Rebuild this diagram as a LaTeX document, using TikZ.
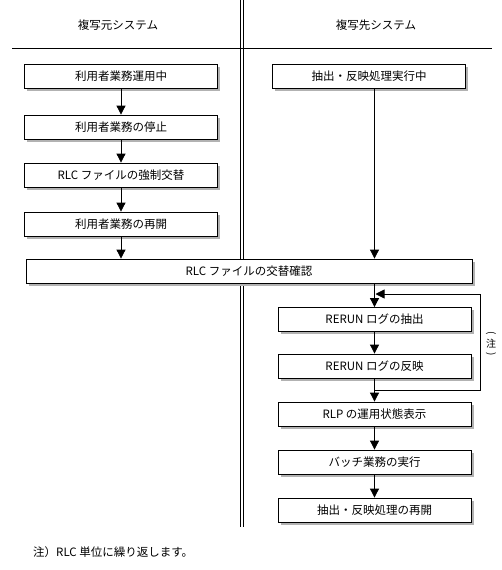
\documentclass[tikz,border=0pt]{standalone}
\usepackage{fontspec}
\setmainfont{Noto Sans CJK JP}
\usetikzlibrary{arrows.meta,shadows}
\begin{document}
\begin{tikzpicture}[x=1pt,y=-1pt,
  every node/.style={font=\fontsize{11.5pt}{13pt}\selectfont, inner sep=0pt},
  box/.style={draw, line width=0.8pt, fill=white, minimum height=24pt,
    drop shadow={opacity=1, fill=gray!60, shadow xshift=2.5pt, shadow yshift=-2.5pt}},
  lbox/.style={box, minimum width=193pt},
  rbox/.style={box, minimum width=193pt},
  ln/.style={line width=0.8pt},
  arr/.style={ln, -{Triangle[length=9pt,width=9pt]}},
  paren/.style={font=\fontsize{10pt}{10pt}\selectfont, rotate=-90}]
\useasboundingbox (0,0) rectangle (502,570);
% headers and frame
\node (h1) at (118,25) {複写元システム};
\node (h2) at (376,25) {複写先システム};
\coordinate (hl) at (12,48);
\coordinate (hr) at (492,48);
\draw[ln] (hl) -- (hr);
\coordinate (v1t) at (240,0);
\coordinate (v1b) at (240,527);
\coordinate (v2t) at (243.5,0);
\coordinate (v2b) at (243.5,527);
\draw[ln] (v1t) -- (v1b);
\draw[ln] (v2t) -- (v2b);
% left column
\node[lbox] (l1) at (121,76) {利用者業務運用中};
\node[lbox] (l2) at (121,127) {利用者業務の停止};
\node[lbox] (l3) at (121,175) {RLC ファイルの強制交替};
\node[lbox] (l4) at (121,224) {利用者業務の再開};
% right top
\node[rbox] (r1) at (369,76) {抽出・反映処理実行中};
% big box
\node[box, minimum width=446pt] (big) at (249,271) {RLC ファイルの交替確認};
% right lower
\node[rbox] (r2) at (374.5,319.5) {RERUN ログの抽出};
\node[rbox] (r3) at (374.5,366) {RERUN ログの反映};
\node[rbox] (r4) at (374.5,414) {RLP の運用状態表示};
\node[rbox] (r5) at (374.5,462) {バッチ業務の実行};
\node[rbox] (r6) at (374.5,510) {抽出・反映処理の再開};
% arrows
\draw[arr] (l1) -- (l2);
\draw[arr] (l2) -- (l3);
\draw[arr] (l3) -- (l4);
\draw[arr] (l4.south) -- (big.north -| l4.south);
\draw[arr] (r1.south -| r2) -- (big.north -| r2);
\draw[arr] (big.south -| r2) -- (r2.north);
\draw[arr] (r2) -- (r3);
\draw[arr] (r3) -- (r4);
\draw[arr] (r4) -- (r5);
\draw[arr] (r5) -- (r6);
% loop
\coordinate (lpA) at (374.5,390);
\coordinate (lpR) at (480,390);
\coordinate (lpT) at (480,294);
\coordinate (lpE) at (375.5,294);
\draw[arr] (lpA) -- (lpR) -- (lpT) -- (lpE);
\node[paren] (np1) at (491,333) {(};
\node[font=\fontsize{10pt}{10pt}\selectfont] (note) at (491,343.5) {注};
\node[paren] (np2) at (491,354) {)};
% footnote
\node[anchor=west] (fn) at (33,552) {注）RLC 単位に繰り返します。};
\end{tikzpicture}
\end{document}
